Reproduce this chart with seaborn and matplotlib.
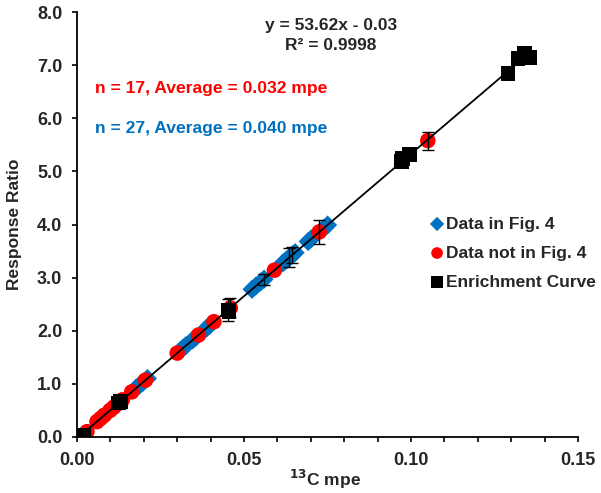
import numpy as np
import pandas as pd
import seaborn as sns
import matplotlib.pyplot as plt
from matplotlib.ticker import MultipleLocator, FormatStrFormatter

# Data (x = 13C mpe, y = response ratio)
fig4_x = [0.0090, 0.0108, 0.0117, 0.0177, 0.0186, 0.0196, 0.0211, 0.0308, 0.0317,
          0.0326, 0.0347, 0.0356, 0.0388, 0.0397, 0.0524, 0.0535, 0.0550, 0.0560,
          0.0617, 0.0627, 0.0636, 0.0645, 0.0653, 0.0692, 0.0701, 0.0739, 0.0750]
fig4_y = [0.45, 0.55, 0.60, 0.92, 0.97, 1.02, 1.10, 1.62, 1.67,
          1.72, 1.83, 1.88, 2.05, 2.10, 2.78, 2.84, 2.92, 2.97,
          3.28, 3.33, 3.38, 3.43, 3.47, 3.68, 3.73, 3.93, 3.99]
fig4_err = [0, 0, 0, 0, 0, 0, 0, 0, 0,
            0, 0, 0, 0, 0, 0, 0, 0, 0.10,
            0, 0, 0.18, 0.15, 0, 0, 0, 0, 0]

other_x = [0.0030, 0.0060, 0.0071, 0.0082, 0.0099, 0.0110, 0.0121, 0.0136, 0.0164,
           0.0205, 0.0300, 0.0364, 0.0410, 0.0459, 0.0591, 0.0725, 0.1050]
other_y = [0.10, 0.29, 0.35, 0.41, 0.50, 0.56, 0.62, 0.70, 0.85,
           1.07, 1.58, 1.92, 2.17, 2.43, 3.14, 3.86, 5.58]
other_err = [0, 0, 0, 0, 0, 0, 0, 0, 0,
             0, 0, 0, 0, 0.18, 0, 0.22, 0.17]

enrich_x = [0.0010, 0.0020, 0.0125, 0.0130, 0.0452, 0.0455, 0.0970, 0.0975,
            0.0995, 0.1290, 0.1320, 0.1340, 0.1355]
enrich_y = [0.00, 0.02, 0.64, 0.66, 2.39, 2.36, 5.18, 5.24,
            5.31, 6.85, 7.12, 7.22, 7.15]
enrich_err = [0, 0, 0.06, 0, 0.20, 0, 0, 0,
              0, 0, 0, 0, 0]

slope, intercept = 53.62, -0.03
fit_x = [0.0006, 0.1350]

sns.set_style('ticks')
plt.rcParams['font.family'] = ['Liberation Sans', 'DejaVu Sans']
plt.rcParams['font.weight'] = 'bold'

fig = plt.figure(figsize=(6.01, 4.93), dpi=100)
ax = fig.add_axes([0.128, 0.1136, 0.834, 0.862])

blue, red = '#0070C0', '#FF0000'
groups = [
    ('Data in Fig. 4', fig4_x, fig4_y, fig4_err, blue, 'D', 95),
    ('Data not in Fig. 4', other_x, other_y, other_err, red, 'o', 125),
    ('Enrichment Curve', enrich_x, enrich_y, enrich_err, 'black', 's', 115),
]
for label, xs, ys, errs, color, marker, size in groups:
    d = pd.DataFrame({'x': xs, 'y': ys, 'err': errs})
    sns.scatterplot(data=d, x='x', y='y', color=color, marker=marker, s=size,
                    edgecolor='none', label=label, ax=ax, zorder=2)
    e = d[d['err'] > 0]
    ax.errorbar(e['x'], e['y'], yerr=e['err'], fmt='none', ecolor='black',
                elinewidth=1, capsize=4, capthick=1, zorder=3)

fx = np.array(fit_x)
ax.plot(fx, slope * fx + intercept, color='black', lw=1.3, zorder=4)

ax.set_xlim(0, 0.15)
ax.set_ylim(0, 8)
ax.xaxis.set_major_locator(MultipleLocator(0.05))
ax.xaxis.set_minor_locator(MultipleLocator(0.01))
ax.yaxis.set_major_locator(MultipleLocator(1.0))
ax.xaxis.set_major_formatter(FormatStrFormatter('%.2f'))
ax.yaxis.set_major_formatter(FormatStrFormatter('%.1f'))
ax.tick_params(axis='both', which='both', direction='out', length=3.6, width=1.2,
               labelsize=13, color='black', pad=7)
for lab in ax.get_xticklabels() + ax.get_yticklabels():
    lab.set_fontweight('bold')
for sp in ['left', 'bottom']:
    ax.spines[sp].set_linewidth(1.3)
    ax.spines[sp].set_color('black')
sns.despine(ax=ax)

ax.set_xlabel('$\\mathbf{^{13}}$C mpe', fontsize=12.5, fontweight='bold')
ax.xaxis.set_label_coords(0.495, -0.099)
ax.xaxis.label.set_va('center')
ax.set_ylabel('Response Ratio', fontsize=12.5, fontweight='bold', labelpad=11)

ax.text(0.507, 0.969, 'y = 53.62x - 0.03', transform=ax.transAxes, ha='center',
        va='center', fontsize=12.5, fontweight='bold')
ax.text(0.507, 0.922, 'R² = 0.9998', transform=ax.transAxes, ha='center',
        va='center', fontsize=12.5, fontweight='bold')
ax.text(0.036, 0.819, 'n = 17, Average = 0.032 mpe', transform=ax.transAxes,
        ha='left', va='center', fontsize=12.6, fontweight='bold', color=red)
ax.text(0.036, 0.725, 'n = 27, Average = 0.040 mpe', transform=ax.transAxes,
        ha='left', va='center', fontsize=12.6, fontweight='bold', color=blue)

leg = ax.legend(loc='center left', bbox_to_anchor=(0.67, 0.433), frameon=False,
                handletextpad=0.0, handlelength=1.0, labelspacing=0.8,
                prop={'size': 12.5, 'weight': 'bold'}, markerscale=0.75)

fig.savefig('out.png', dpi=100)
